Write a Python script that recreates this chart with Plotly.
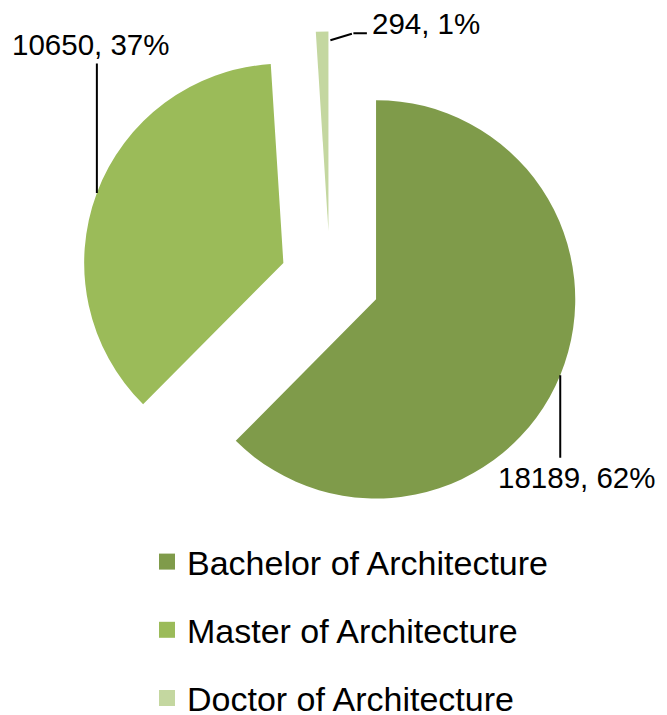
import math
import plotly.graph_objects as go

# ---- data ----
categories = ["Bachelor of Architecture", "Master of Architecture", "Doctor of Architecture"]
values = [18189, 10650, 294]
percent_labels = ["62%", "37%", "1%"]
colors = ["#7F9B4A", "#9BBB59", "#C4D7A0"]

W, H = 667, 715
FONT = "Liberation Sans, Arial, sans-serif"
PULL = 0.25

# pie domain (paper coords, margins are zero)
cx_px, cy_px = 330.0, 280.4     # pie centre in pixels
half_px = 249.0                  # outer radius incl. pull
dom_x = [(cx_px - 254) / W, (cx_px + 254) / W]
dom_y = [1 - (cy_px + half_px) / H, 1 - (cy_px - half_px) / H]

fig = go.Figure()
fig.add_trace(go.Pie(
    labels=categories, values=values, sort=False, direction="clockwise",
    rotation=0, pull=[PULL] * len(values),
    marker=dict(colors=colors, line=dict(width=0)),
    textinfo="none", hoverinfo="label+value+percent",
    showlegend=False, domain=dict(x=dom_x, y=dom_y),
))

# legend entries (one per category, separated with group gaps)
for cat, col in zip(categories, colors):
    fig.add_trace(go.Scatter(
        x=[None], y=[None], mode="markers", name=cat, legendgroup=cat,
        marker=dict(symbol="square", size=16, color=col),
        hoverinfo="skip",
    ))

# leader lines + labels, attach points derived from slice angles
total = sum(values)
cum = 0
# per-label style: radius factor, start offset, leader segments (dx,dy px), label offset (dx,dy px)
leader_style = [
    dict(rf=1.0, start=(0, 0), segs=[(0, 84)], lab=(16, 102)),
    dict(rf=1.0, start=(0, 0), segs=[(0, -131)], lab=(-6, -148)),
    dict(rf=0.965, start=(8, 0), segs=[(23, -7), (15, 0)], lab=(104, -17)),
]
annotations = []
for v, pct, st in zip(values, percent_labels, leader_style):
    mid = 2 * math.pi * (cum + v / 2) / total
    cum += v
    ax_px = cx_px + half_px * st["rf"] * math.sin(mid)
    ay_px = cy_px - half_px * st["rf"] * math.cos(mid)
    xp, yp = ax_px / W, 1 - ay_px / H
    sx, sy = st["start"]
    for dx, dy in st["segs"]:
        annotations.append(dict(
            x=xp, y=yp, xref="paper", yref="paper", text="",
            xshift=sx, yshift=-sy,
            showarrow=True, arrowhead=0, arrowwidth=2, arrowcolor="black",
            ax=dx, ay=dy, standoff=0, startstandoff=0,
        ))
        sx += dx
        sy += dy
    annotations.append(dict(
        x=xp, y=yp, xref="paper", yref="paper",
        text=f"{v}, {pct}", showarrow=False,
        xshift=st["lab"][0], yshift=-st["lab"][1],
        font=dict(size=29.5, color="black", family=FONT),
        xanchor="center", yanchor="middle",
    ))

fig.update_layout(
    width=W, height=H,
    margin=dict(l=0, r=0, t=0, b=0, autoexpand=False),
    paper_bgcolor="white", plot_bgcolor="white",
    font=dict(family=FONT, color="black"),
    xaxis=dict(visible=False), yaxis=dict(visible=False),
    annotations=annotations,
    legend=dict(
        x=147 / W, y=1 - 533 / H, xanchor="left", yanchor="top",
        font=dict(size=34, color="black", family=FONT),
        traceorder="grouped", tracegroupgap=21,
        bgcolor="rgba(0,0,0,0)", borderwidth=0,
    ),
)

fig.write_html("out.html")
